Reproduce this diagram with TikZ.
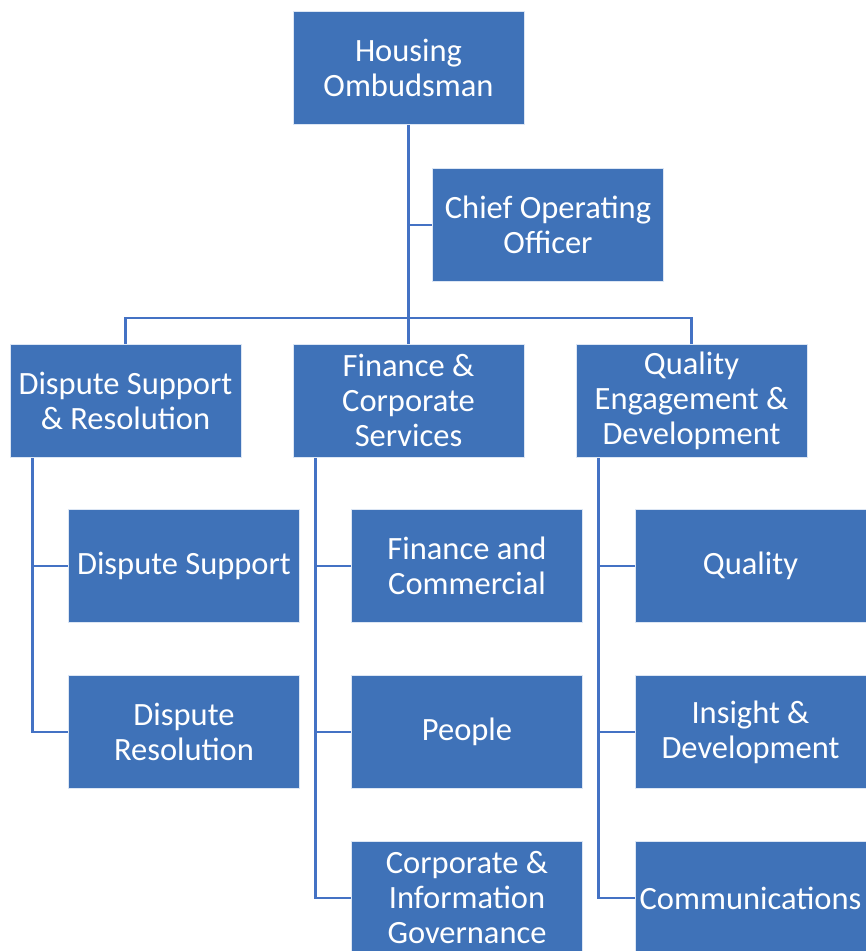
\documentclass[tikz,border=0pt]{standalone}
\usepackage{fontspec}
\setmainfont{Carlito}
\usetikzlibrary{calc}
\definecolor{boxblue}{HTML}{3F72B8}
\definecolor{lineblue}{HTML}{4472C4}
\definecolor{edgecol}{HTML}{DCE6F4}
\tikzset{
  orgbox/.style={rectangle, fill=boxblue, draw=edgecol, line width=0.8pt,
    minimum width=231pt, minimum height=113pt, inner sep=0pt,
    text=white, align=center, font=\fontsize{32.5}{35}\selectfont},
  link/.style={draw=lineblue, line width=2.6pt}
}
\begin{document}
\begin{tikzpicture}[x=1pt,y=-1pt]
\useasboundingbox (0,0) rectangle (866,951);
\clip (0,0) rectangle (866,951);
\node[orgbox] (HO) at (408.5,68) {Housing\\Ombudsman};
\node[orgbox] (COO) at (548,225) {Chief Operating\\Officer};
\node[orgbox] (DSR) at (125.5,400.5) {Dispute Support\\\& Resolution};
\node[orgbox] (FCS) at (408.5,400.5) {Finance \&\\Corporate\\Services};
\node[orgbox] (QED) at (691.5,400.5) {Quality\\Engagement \&\\Development};
\node[orgbox] (DS) at (184,566) {Dispute Support};
\node[orgbox] (DR) at (184,732) {Dispute\\Resolution};
\node[orgbox] (FC) at (467,566) {Finance and\\Commercial};
\node[orgbox] (PE) at (467,732) {People};
\node[orgbox] (CIG) at (467,898) {Corporate \&\\Information\\Governance};
\node[orgbox] (Q) at (750.5,566) {Quality};
\node[orgbox] (ID) at (750.5,732) {Insight \&\\Development};
\node[orgbox] (CO) at (750.5,898) {Communications};
\coordinate (bar) at (408.5,318);
\coordinate (sL) at ($(DSR.south west)+(23,1)$);
\coordinate (sM) at ($(FCS.south west)+(23,1)$);
\coordinate (sR) at ($(QED.south west)+(23,1)$);
\path[link] (HO.south) -- (FCS.north);
\path[link] (HO.south |- COO.west) -- (COO.west);
\path[link] (DSR.north) |- (bar) -| (QED.north);
\path[link] (sL) |- (DS.west);
\path[link] (sL) |- (DR.west);
\path[link] (sM) |- (FC.west);
\path[link] (sM) |- (PE.west);
\path[link] (sM) |- (CIG.west);
\path[link] (sR) |- (Q.west);
\path[link] (sR) |- (ID.west);
\path[link] (sR) |- (CO.west);
\end{tikzpicture}
\end{document}
